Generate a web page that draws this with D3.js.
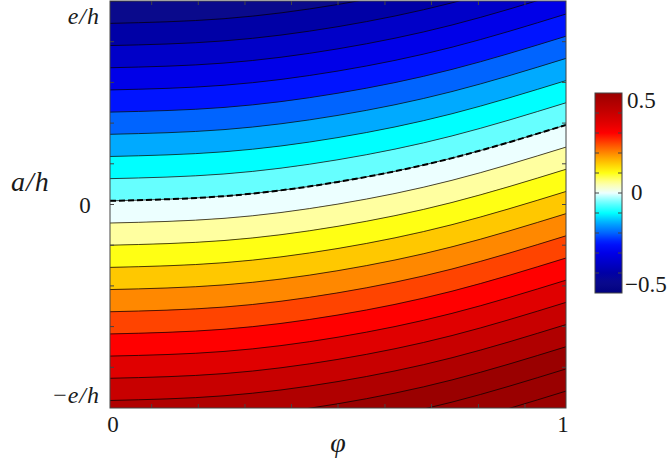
<!DOCTYPE html>
<html>
<head>
<meta charset="utf-8">
<script src="https://cdn.jsdelivr.net/npm/d3@7"></script>
<style>
  body { margin: 0; background: #fff; }
  text { font-family: "Liberation Serif", "Times New Roman", "DejaVu Serif", serif; fill: #1a1a1a; }
</style>
</head>
<body>
<svg id="chart" width="670" height="464"></svg>
<script>
const phiSamples = [0, 0.25, 0.5, 0.75, 1];
// how far every contour has risen (in a/h, units of e/h) at each φ sample
const drift = [0, 0.023, 0.093, 0.21, 0.373];
// contour levels and the height a/h where each crosses φ = 0
const levels = [-0.45, -0.4, -0.35, -0.3, -0.25, -0.2, -0.15, -0.1, -0.05, 0,
  0.05, 0.1, 0.15, 0.2, 0.25, 0.3, 0.35, 0.4, 0.45, 0.5, 0.55, 0.6];
const levelA0 = [0.999, 0.890, 0.781, 0.672, 0.563, 0.454, 0.345, 0.236, 0.127, 0.018,
  -0.091, -0.200, -0.309, -0.418, -0.527, -0.636, -0.745, -0.854, -0.963, -1.072, -1.181, -1.290];
const cmapValues = [-0.5, -0.45, -0.4, -0.35, -0.3, -0.25, -0.2, -0.15, -0.1, -0.05, 0,
  0.05, 0.1, 0.15, 0.2, 0.25, 0.3, 0.35, 0.4, 0.45, 0.5];
const cmapColors = ["#000080", "#0a0a8c", "#0000a6", "#0000c8", "#0000e8", "#0014ff",
  "#0064ff", "#00aaff", "#00ffff", "#66ffff", "#ecffff",
  "#ffffa0", "#ffff14", "#ffc800", "#ff8800", "#ff4400", "#ff0000",
  "#e00000", "#c80000", "#b00000", "#9a0000"];
// tick positions
const xMinorTicks = [0.0914, 0.1936, 0.296, 0.398, 0.5, 0.603, 0.705, 0.808, 0.91];
const yMinorTicks = [-0.8, -0.6, -0.4, -0.2, 0, 0.2, 0.4, 0.6, 0.8];
const cbarTicks = [-0.4, -0.3, -0.2, -0.1, 0, 0.1, 0.2, 0.3, 0.4];
const cbarLabels = [0.5, 0, -0.5];

const svg = d3.select("#chart");
const plot = { left: 110, right: 566, top: 1, bottom: 408 };
const x = d3.scaleLinear().domain([0, 1]).range([plot.left, plot.right]);
const y = d3.scaleLinear().domain([-1, 1]).range([plot.bottom, plot.top]);
const cmap = d3.scaleLinear().domain(cmapValues).range(cmapColors).clamp(true);

// contour line data
const lines = levels.map((v, k) =>
  phiSamples.map((p, j) => ({ phi: p, a: levelA0[k] + drift[j] }))
);

svg.append("clipPath").attr("id", "clip")
  .append("rect")
  .attr("x", plot.left).attr("y", plot.top)
  .attr("width", plot.right - plot.left).attr("height", plot.bottom - plot.top);

const g = svg.append("g").attr("clip-path", "url(#clip)");

// region beyond the last level
g.append("rect")
  .attr("x", plot.left).attr("y", plot.top)
  .attr("width", plot.right - plot.left).attr("height", plot.bottom - plot.top)
  .attr("fill", cmap(levels[levels.length - 1]));

// region above the first level
g.append("path")
  .datum(lines[0])
  .attr("fill", cmap(-0.5))
  .attr("d", d3.area().curve(d3.curveNatural)
    .x((d) => x(d.phi)).y0(() => y(1.2)).y1((d) => y(d.a)));

// filled bands
const bandArea = d3.area().curve(d3.curveNatural)
  .x((d) => x(d.phi)).y0((d) => y(d.lo)).y1((d) => y(d.hi));

for (let k = 0; k < levels.length - 1; k++) {
  const band = phiSamples.map((p, j) => ({
    phi: p, hi: lines[k][j].a, lo: lines[k + 1][j].a
  }));
  g.append("path").datum(band)
    .attr("fill", cmap(levels[k]))
    .attr("stroke", cmap(levels[k])).attr("stroke-width", 0.4)
    .attr("d", bandArea);
}

// contour lines
const contour = d3.line().curve(d3.curveNatural)
  .x((d) => x(d.phi)).y((d) => y(d.a));

g.selectAll(".contour")
  .data(lines)
  .enter().append("path")
  .attr("class", "contour")
  .attr("fill", "none")
  .attr("stroke", "#000")
  .attr("stroke-width", 0.7)
  .attr("d", contour);

// zero level, dashed
g.append("path")
  .datum(lines[levels.indexOf(0)])
  .attr("fill", "none")
  .attr("stroke", "#000")
  .attr("stroke-width", 2)
  .attr("stroke-dasharray", "6,3")
  .attr("d", contour);

// frame and minor ticks
const frame = svg.append("g").attr("stroke", "#444").attr("stroke-width", 1);
frame.append("rect")
  .attr("x", plot.left).attr("y", plot.top)
  .attr("width", plot.right - plot.left).attr("height", plot.bottom - plot.top)
  .attr("fill", "none");

xMinorTicks.forEach((t) => {
  frame.append("line").attr("x1", x(t)).attr("x2", x(t))
    .attr("y1", plot.bottom).attr("y2", plot.bottom - 4);
  frame.append("line").attr("x1", x(t)).attr("x2", x(t))
    .attr("y1", plot.top).attr("y2", plot.top + 4);
});
yMinorTicks.forEach((t) => {
  frame.append("line").attr("y1", y(t)).attr("y2", y(t))
    .attr("x1", plot.left).attr("x2", plot.left + 4);
  frame.append("line").attr("y1", y(t)).attr("y2", y(t))
    .attr("x1", plot.right).attr("x2", plot.right - 4);
});

// axis labels
svg.append("text").attr("x", 100).attr("y", 24).attr("text-anchor", "end")
  .attr("font-size", 24).attr("font-style", "italic").attr("letter-spacing", 1).text("e/h");
svg.append("text").attr("x", 100).attr("y", 403).attr("text-anchor", "end")
  .attr("font-size", 24).attr("letter-spacing", 1)
  .html('<tspan>\u2212</tspan><tspan font-style="italic">e/h</tspan>');
svg.append("text").attr("x", 85).attr("y", 213).attr("text-anchor", "middle")
  .attr("font-size", 23).text("0");
svg.append("text").attr("x", 11).attr("y", 191)
  .attr("font-size", 28).attr("font-style", "italic").attr("letter-spacing", 1).text("a/h");

svg.append("text").attr("x", 113).attr("y", 432).attr("text-anchor", "middle")
  .attr("font-size", 23).text("0");
svg.append("text").attr("x", 563).attr("y", 432).attr("text-anchor", "middle")
  .attr("font-size", 23).text("1");
svg.append("text").attr("x", 338).attr("y", 452).attr("text-anchor", "middle")
  .attr("font-size", 28).attr("font-style", "italic").text("\u03c6");

// colour bar
const cb = { left: 595, right: 622, top: 93, bottom: 293 };
const cy = d3.scaleLinear().domain([-0.5, 0.5]).range([cb.bottom, cb.top]);

const grad = svg.append("defs").append("linearGradient")
  .attr("id", "cbar").attr("x1", 0).attr("x2", 0).attr("y1", 1).attr("y2", 0);
d3.range(0, 1.0001, 0.02).forEach((t) => {
  grad.append("stop").attr("offset", t).attr("stop-color", cmap(-0.5 + t));
});

svg.append("rect")
  .attr("x", cb.left).attr("y", cb.top)
  .attr("width", cb.right - cb.left).attr("height", cb.bottom - cb.top)
  .attr("fill", "url(#cbar)")
  .attr("stroke", "#444").attr("stroke-width", 1);

cbarTicks.forEach((t) => {
  svg.append("line").attr("x1", cb.left).attr("x2", cb.left + 4)
    .attr("y1", cy(t)).attr("y2", cy(t)).attr("stroke", "#444");
  svg.append("line").attr("x1", cb.right).attr("x2", cb.right - 4)
    .attr("y1", cy(t)).attr("y2", cy(t)).attr("stroke", "#444");
});

const cbOffset = { "0.5": 15, "0": 7, "-0.5": -1 };
cbarLabels.forEach((v) => {
  svg.append("text")
    .attr("x", v < 0 ? 625 : (v === 0 ? 631 : 627))
    .attr("y", cy(v) + cbOffset[String(v)])
    .attr("font-size", 23)
    .text(v < 0 ? "\u2212" + Math.abs(v) : String(v));
});
</script>
</body>
</html>
